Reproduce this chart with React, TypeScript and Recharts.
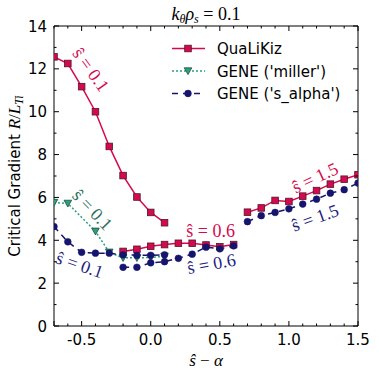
import React from 'react';
import { ComposedChart, Line, XAxis, YAxis, Legend, ReferenceDot, Label } from 'recharts';

// ---------- data ----------
const QLK_S01_X = [-0.7, -0.6, -0.5, -0.4, -0.3, -0.2, -0.1, 0.0, 0.1];
const QLK_S01_Y = [12.56, 12.25, 11.17, 10.0, 8.38, 7.02, 6.02, 5.3, 4.82];
const QLK_S06_X = [-0.2, -0.1, 0.0, 0.1, 0.2, 0.3, 0.4, 0.5, 0.6];
const QLK_S06_Y = [3.48, 3.58, 3.72, 3.8, 3.86, 3.86, 3.78, 3.7, 3.8];
const QLK_S15_X = [0.7, 0.8, 0.9, 1.0, 1.1, 1.2, 1.3, 1.4, 1.5];
const QLK_S15_Y = [5.31, 5.51, 5.86, 5.81, 6.06, 6.32, 6.62, 6.85, 7.06];

const MIL_S01_X = [-0.7, -0.6, -0.4, -0.3, -0.2, -0.1, 0.0, 0.1];
const MIL_S01_Y = [5.76, 5.72, 4.42, 3.44, 3.18, 3.18, 3.2, 3.25];

const SAL_S01_X = [-0.7, -0.6, -0.5, -0.4, -0.3, -0.2, -0.1, 0.0, 0.1];
const SAL_S01_Y = [4.64, 3.93, 3.44, 3.4, 3.4, 3.32, 3.3, 3.3, 3.32];
const SAL_S06_X = [-0.2, -0.1, 0.0, 0.1, 0.2, 0.3, 0.4, 0.5, 0.6];
const SAL_S06_Y = [2.74, 2.74, 2.95, 3.0, 3.16, 3.35, 3.68, 3.6, 3.74];
const SAL_S15_X = [0.7, 0.8, 0.9, 1.0, 1.1, 1.2, 1.3, 1.4, 1.5];
const SAL_S15_Y = [4.87, 5.15, 5.3, 5.47, 5.69, 5.92, 6.2, 6.36, 6.67];

const SERIES_NAMES = ['QuaLiKiz', "GENE ('miller')", "GENE ('s_alpha')"];

const X_TICKS = [-0.7, -0.6, -0.5, -0.4, -0.3, -0.2, -0.1, 0.0, 0.1, 0.2, 0.3, 0.4, 0.5, 0.6, 0.7, 0.8, 0.9, 1.0, 1.1, 1.2, 1.3, 1.4, 1.5];
const X_MAJOR = [-0.5, 0.0, 0.5, 1.0, 1.5];
const X_MAJOR_LABELS = ['-0.5', '0.0', '0.5', '1.0', '1.5'];
const Y_TICKS = [0, 1, 2, 3, 4, 5, 6, 7, 8, 9, 10, 11, 12, 13, 14];
const Y_MAJOR = [0, 2, 4, 6, 8, 10, 12, 14];
const Y_MAJOR_LABELS = ['0', '2', '4', '6', '8', '10', '12', '14'];

const ANNOTATIONS = [
  { x: -0.433, y: 11.96, text: 'ŝ = 0.1', color: '#d6094f', angle: 54 },
  { x: -0.422, y: 5.42, text: 'ŝ = 0.1', color: '#2b6e5c', angle: 46 },
  { x: -0.513, y: 2.85, text: 'ŝ = 0.1', color: '#1d1d80', angle: 19 },
  { x: 0.433, y: 4.44, text: 'ŝ = 0.6', color: '#d6094f', angle: 0 },
  { x: 0.44, y: 2.9, text: 'ŝ = 0.6', color: '#1d1d80', angle: -10 },
  { x: 1.19, y: 6.92, text: 'ŝ = 1.5', color: '#d6094f', angle: -25 },
  { x: 1.19, y: 5.05, text: 'ŝ = 1.5', color: '#1d1d80', angle: -20 },
];

const zip = (xs: number[], ys: number[]) => xs.map((x, i) => ({ x, y: ys[i] }));

// ---------- styles ----------
const RED = '#d6094f';
const GREEN = '#29a17c';
const NAVY = '#15156e';
const SANS = 'DejaVu Sans';
const SERIF = 'Liberation Serif';

const Square = ({ cx, cy }: any) => (
  <rect x={cx - 3.3} y={cy - 3.3} width={6.6} height={6.6} fill={RED} stroke="#4d1a2a" strokeWidth={0.8} />
);
const TriDown = ({ cx, cy }: any) => (
  <path d={`M${cx - 3.8},${cy - 3.2} L${cx + 3.8},${cy - 3.2} L${cx},${cy + 3.6} Z`} fill={GREEN} stroke="#1f4f45" strokeWidth={0.8} />
);
const Circ = ({ cx, cy }: any) => <circle cx={cx} cy={cy} r={3.4} fill={NAVY} stroke={NAVY} strokeWidth={0.5} />;

const SERIES_STYLE: Record<string, any> = {
  'QuaLiKiz': { color: RED, dash: undefined, Marker: Square },
  "GENE ('miller')": { color: GREEN, dash: '2 2', Marker: TriDown },
  "GENE ('s_alpha')": { color: NAVY, dash: '6 5', Marker: Circ },
};

const SEGMENTS = [
  { name: 'QuaLiKiz', data: zip(QLK_S01_X, QLK_S01_Y), first: true },
  { name: 'QuaLiKiz', data: zip(QLK_S06_X, QLK_S06_Y), first: false },
  { name: 'QuaLiKiz', data: zip(QLK_S15_X, QLK_S15_Y), first: false },
  { name: "GENE ('miller')", data: zip(MIL_S01_X, MIL_S01_Y), first: true },
  { name: "GENE ('s_alpha')", data: zip(SAL_S01_X, SAL_S01_Y), first: true },
  { name: "GENE ('s_alpha')", data: zip(SAL_S06_X, SAL_S06_Y), first: false },
  { name: "GENE ('s_alpha')", data: zip(SAL_S15_X, SAL_S15_Y), first: false },
];

const near = (a: number, b: number) => Math.abs(a - b) < 1e-6;
const MAJ = 5;
const MIN = 2.5;

const BottomTick = (p: any) => {
  const v = p.payload.value;
  const idx = X_MAJOR.findIndex((m) => near(m, v));
  const isMaj = idx >= 0 || near(v, -0.7);
  return (
    <g>
      <line x1={p.x} x2={p.x} y1={p.y} y2={p.y - (isMaj ? MAJ : MIN)} stroke="#000" strokeWidth={1} />
      {idx >= 0 && (
        <text x={p.x} y={p.y + 19} textAnchor="middle" fontFamily={SANS} fontSize={15} fill="#000">
          {X_MAJOR_LABELS[idx]}
        </text>
      )}
    </g>
  );
};
const TopTick = (p: any) => {
  const v = p.payload.value;
  const isMaj = X_MAJOR.some((m) => near(m, v));
  return <line x1={p.x} x2={p.x} y1={p.y} y2={p.y + (isMaj ? MAJ : MIN)} stroke="#000" strokeWidth={1} />;
};
const LeftTick = (p: any) => {
  const v = p.payload.value;
  const idx = Y_MAJOR.findIndex((m) => near(m, v));
  return (
    <g>
      <line x1={p.x} x2={p.x + (idx >= 0 ? MAJ : MIN)} y1={p.y} y2={p.y} stroke="#000" strokeWidth={1} />
      {idx >= 0 && (
        <text x={p.x - 7} y={p.y + 5.5} textAnchor="end" fontFamily={SANS} fontSize={15} fill="#000">
          {Y_MAJOR_LABELS[idx]}
        </text>
      )}
    </g>
  );
};
const RightTick = (p: any) => {
  const v = p.payload.value;
  const isMaj = Y_MAJOR.some((m) => near(m, v));
  return <line x1={p.x} x2={p.x - (isMaj ? MAJ : MIN)} y1={p.y} y2={p.y} stroke="#000" strokeWidth={1} />;
};

const TitleLabel = ({ viewBox }: any) => {
  const cx = viewBox.x + viewBox.width / 2;
  const y = viewBox.y + viewBox.height - 6;
  return (
    <text x={cx} y={y} textAnchor="middle" fontFamily={SERIF} fontSize={18} fill="#000">
      <tspan fontStyle="italic">k</tspan>
      <tspan fontStyle="italic" fontSize={12} dy={3}>θ</tspan>
      <tspan fontStyle="italic" dy={-3}>ρ</tspan>
      <tspan fontStyle="italic" fontSize={12} dy={3}>s</tspan>
      <tspan dy={-3}> = 0.1</tspan>
    </text>
  );
};
const XLabel = ({ viewBox }: any) => {
  const cx = viewBox.x + viewBox.width / 2;
  return (
    <text x={cx} y={viewBox.y + 40} textAnchor="middle" fontFamily={SERIF} fontSize={17} fill="#000">
      <tspan fontStyle="italic">ŝ</tspan>
      <tspan> − </tspan>
      <tspan fontStyle="italic">α</tspan>
    </text>
  );
};
const YLabel = ({ viewBox }: any) => {
  const cy = viewBox.y + viewBox.height / 2;
  const x = viewBox.x + 5.5;
  return (
    <text x={x} y={cy} transform={`rotate(-90 ${x} ${cy})`} textAnchor="middle" fontFamily={SANS} fontSize={15} fill="#000">
      <tspan>Critical Gradient </tspan>
      <tspan fontFamily={SERIF} fontStyle="italic" fontSize={17}>R</tspan>
      <tspan fontFamily={SERIF} fontSize={17}>/</tspan>
      <tspan fontFamily={SERIF} fontStyle="italic" fontSize={17}>L</tspan>
      <tspan fontFamily={SERIF} fontStyle="italic" fontSize={12} dy={3}>Ti</tspan>
    </text>
  );
};

const LegendContent = ({ payload }: any) => {
  const names = new Set((payload || []).map((e: any) => e.value));
  const items = SERIES_NAMES.filter((n) => names.has(n));
  return (
    <svg width={200} height={70} style={{ display: 'block' }}>
      {items.map((name: string, i: number) => {
        const st = SERIES_STYLE[name];
        const cy = 11.5 + i * 22.5;
        const M = st.Marker;
        return (
          <g key={name}>
            <line x1={7} x2={40} y1={cy} y2={cy} stroke={st.color} strokeWidth={1.5} strokeDasharray={st.dash} />
            <M cx={23} cy={cy} />
            <text x={52} y={cy + 5.5} fontFamily={SANS} fontSize={15} fill="#000">{name}</text>
          </g>
        );
      })}
    </svg>
  );
};

export default function App() {
  return (
    <div style={{ position: 'absolute', left: 0, top: 0, width: 379, height: 378, background: '#fff' }}>
      <ComposedChart width={379} height={378} margin={{ top: 25, right: 20, bottom: 22, left: 14 }}>
        <XAxis
          xAxisId="x" dataKey="x" type="number" domain={[-0.7, 1.5]} allowDataOverflow
          ticks={X_TICKS} interval={0} tickSize={0} tickMargin={0} tickLine={false}
          tick={(p: any) => <BottomTick {...p} />} height={30}
          axisLine={{ stroke: '#000', strokeWidth: 1 }}
        >
          <Label content={XLabel} />
        </XAxis>
        <XAxis
          xAxisId="top" dataKey="x" type="number" orientation="top" domain={[-0.7, 1.5]} allowDataOverflow
          ticks={X_TICKS} interval={0} tickSize={0} tickMargin={0} tickLine={false}
          tick={(p: any) => <TopTick {...p} />} height={1}
          axisLine={{ stroke: '#000', strokeWidth: 1 }}
        >
          <Label content={TitleLabel} />
        </XAxis>
        <YAxis
          yAxisId="y" type="number" domain={[0, 14]} allowDataOverflow
          ticks={Y_TICKS} interval={0} tickSize={0} tickMargin={0} tickLine={false}
          tick={(p: any) => <LeftTick {...p} />} width={40}
          axisLine={{ stroke: '#000', strokeWidth: 1 }}
        >
          <Label content={YLabel} />
        </YAxis>
        <YAxis
          yAxisId="right" orientation="right" type="number" domain={[0, 14]} allowDataOverflow
          ticks={Y_TICKS} interval={0} tickSize={0} tickMargin={0} tickLine={false}
          tick={(p: any) => <RightTick {...p} />} width={1}
          axisLine={{ stroke: '#000', strokeWidth: 1 }}
        />
        {SEGMENTS.map((s, i) => {
          const st = SERIES_STYLE[s.name];
          const M = st.Marker;
          return (
            <Line
              key={i}
              xAxisId="x"
              yAxisId="y"
              data={s.data}
              dataKey="y"
              name={s.name}
              type="linear"
              stroke={st.color}
              strokeWidth={1.5}
              strokeDasharray={st.dash}
              legendType={s.first ? 'line' : 'none'}
              dot={(p: any) => <M key={`d${i}-${p.index}`} cx={p.cx} cy={p.cy} />}
              activeDot={false}
              isAnimationActive={false}
            />
          );
        })}
        {ANNOTATIONS.map((a, i) => (
          <ReferenceDot
            key={`a${i}`}
            xAxisId="x"
            yAxisId="y"
            x={a.x}
            y={a.y}
            r={0}
            ifOverflow="visible"
            shape={(p: any) => (
              <text
                x={p.cx}
                y={p.cy}
                transform={`rotate(${a.angle} ${p.cx} ${p.cy})`}
                textAnchor="middle"
                dominantBaseline="central"
                fontFamily={SERIF}
                fontSize={18}
                fill={a.color}
              >
                {a.text}
              </text>
            )}
          />
        ))}
        <Legend
          layout="vertical"
          align="center"
          verticalAlign="middle"
          content={LegendContent}
          wrapperStyle={{ left: 165, top: 37, width: 200, height: 70 }}
        />
      </ComposedChart>
    </div>
  );
}
